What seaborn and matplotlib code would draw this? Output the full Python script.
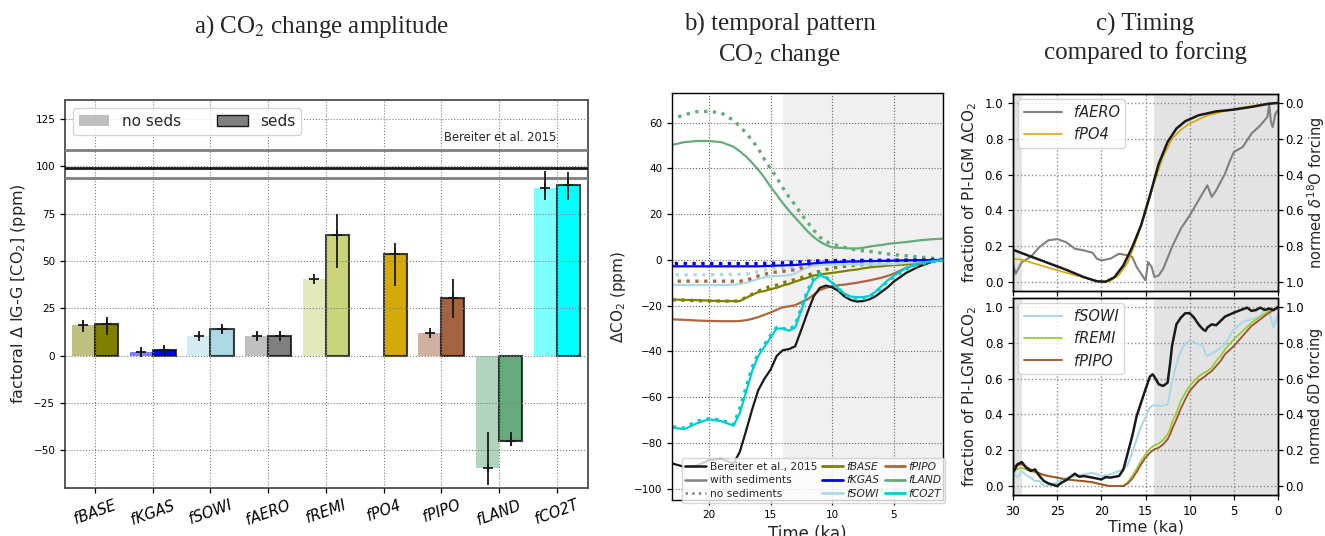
import numpy as np
import pandas as pd
import matplotlib
matplotlib.use('Agg')
import matplotlib.pyplot as plt
import seaborn as sns
from matplotlib.patches import Patch
from matplotlib.lines import Line2D

# ---------------- Panel a data ----------------
categories = ['fBASE', 'fKGAS', 'fSOWI', 'fAERO', 'fREMI', 'fPO4', 'fPIPO', 'fLAND', 'fCO2T']
noseds_vals = [16.2, 1.8, 10.4, 10.4, 40.4, np.nan, 11.8, -59.6, 88.3]
noseds_err_lo = [3.6, 1.0, 1.2, 1.8, 0.8, np.nan, 1.5, 8.6, 6.0]
noseds_err_hi = [2.5, 1.0, 1.2, 1.8, 0.8, np.nan, 1.5, 19.0, 9.0]
seds_vals = [16.5, 3.0, 13.9, 10.4, 63.7, 53.4, 30.5, -45.3, 90.2]
seds_err_lo = [5.6, 1.5, 2.0, 2.0, 17.4, 16.6, 10.5, 2.6, 8.0]
seds_err_hi = [3.9, 1.5, 1.5, 2.0, 10.9, 6.3, 10.0, 5.0, 7.0]
bar_colors = ['#808000', '#0000ff', '#add8e6', '#808080', '#cbd47b',
              '#d4aa0a', '#a3633f', '#65ab7c', '#00ffff']
bereiter_amp = 99.0
bereiter_hi = 108.6
bereiter_lo = 94.0

# ---------------- Panel b data ----------------
t_b = [23, 22, 21, 20, 19, 18, 17.5, 17, 16.5, 16, 15.5, 15, 14.5, 14, 13.5, 13,
       12.5, 12, 11.5, 11, 10.5, 10, 9.5, 9, 8.5, 8, 7.5, 7, 6.5, 6, 5.5, 5, 4, 3, 2, 1]
bereiter_b = [-89.0, -90.5, -90.0, -87.5, -87.0, -89.0, -84.0, -75.0, -65.5, -57.0, -52.0, -48.0,
              -42.0, -39.5, -39.0, -37.8, -30.5, -23.0, -16.0, -12.2, -11.2, -12.0, -13.5, -16.0,
              -17.5, -18.2, -18.0, -17.3, -16.0, -14.0, -12.0, -9.5, -5.7, -3.0, -1.0, 0.3]
fBASE_sed = [-17.3, -17.5, -17.6, -17.8, -18.0, -18.0, -18.0, -16.6, -15.3, -14.1, -13.6, -12.8,
             -12.2, -11.2, -10.5, -9.5, -8.6, -7.8, -6.8, -6.4, -6.0, -5.7, -5.3, -4.9, -4.5,
             -4.2, -3.7, -3.3, -3.0, -2.8, -2.5, -2.3, -2.0, -1.3, -0.7, 0.0]
fBASE_nosed = [-17.5, -17.6, -17.8, -17.9, -18.0, -18.0, -18.0, -16.3, -15.0, -13.7, -12.5, -11.6,
               -11.0, -10.0, -9.3, -8.6, -7.8, -6.8, -5.7, -5.0, -4.2, -3.6, -3.2, -2.8, -2.5,
               -2.3, -2.0, -1.8, -1.7, -1.5, -1.3, -1.2, -1.0, -0.7, -0.3, 0.0]
fKGAS_sed = [-2.8, -2.8, -2.8, -2.8, -2.8, -2.8, -2.8, -2.8, -2.8, -2.8, -2.7, -2.6, -2.5, -2.4,
             -2.3, -2.2, -2.0, -1.8, -1.5, -1.3, -1.1, -1.0, -0.9, -0.8, -0.7, -0.7, -0.6,
             -0.5, -0.5, -0.4, -0.4, -0.3, -0.2, -0.1, -0.1, 0.0]
fKGAS_nosed = [-1.6, -1.6, -1.6, -1.6, -1.6, -1.6, -1.6, -1.6, -1.6, -1.6, -1.5, -1.5, -1.4,
               -1.3, -1.1, -1.0, -0.8, -0.6, -0.5, -0.4, -0.4, -0.3, -0.3, -0.3, -0.3, -0.3,
               -0.2, -0.2, -0.2, -0.2, -0.2, -0.2, -0.1, -0.1, 0.0, 0.0]
fSOWI_sed = [-10.8, -11.0, -11.0, -11.0, -11.0, -10.8, -10.5, -10.0, -9.2, -8.3, -7.6, -7.2, -7.0,
             -6.9, -6.7, -6.0, -4.5, -3.2, -2.6, -2.3, -2.2, -2.1, -2.0, -2.0, -2.0, -2.0, -2.0,
             -1.9, -1.9, -1.9, -1.8, -1.8, -1.3, -0.9, -0.5, 0.0]
fSOWI_nosed = [-6.5, -6.5, -6.5, -6.5, -6.4, -6.3, -6.3, -6.2, -5.7, -5.0, -4.4, -4.0, -3.7,
               -3.5, -3.2, -2.8, -2.3, -1.8, -1.5, -1.3, -1.1, -1.0, -1.0, -1.0, -1.0, -1.0,
               -0.9, -0.9, -0.8, -0.8, -0.7, -0.7, -0.5, -0.3, -0.2, 0.0]
fPIPO_sed = [-26.0, -26.2, -26.5, -26.7, -26.8, -26.8, -26.7, -26.4, -25.8, -25.0, -24.0, -23.0,
             -21.8, -20.7, -20.3, -19.8, -18.5, -17.3, -15.3, -13.2, -12.2, -11.5, -11.1, -10.8,
             -10.4, -10.0, -9.5, -9.0, -8.4, -7.8, -7.0, -6.0, -3.5, -1.8, -0.8, 0.0]
fPIPO_nosed = [-9.3, -9.3, -9.3, -9.3, -9.3, -9.3, -9.3, -9.0, -8.0, -7.0, -6.3, -5.7, -5.3,
               -5.0, -4.6, -4.3, -3.5, -2.2, -1.2, -0.6, -0.4, -0.3, -0.3, -0.3, -0.3, -0.3,
               -0.3, -0.3, -0.3, -0.2, -0.2, -0.2, -0.1, -0.1, 0.0, 0.0]
fLAND_sed = [50.3, 51.5, 52.0, 52.0, 51.5, 49.5, 47.5, 45.3, 42.5, 39.5, 36.0, 32.0, 28.5, 24.8,
             21.5, 18.5, 15.5, 12.5, 10.0, 8.0, 6.5, 5.5, 5.3, 5.2, 5.0, 5.0, 5.3, 5.8, 6.2,
             6.5, 7.0, 7.3, 7.8, 8.5, 9.0, 9.3]
fLAND_nosed = [61.5, 63.5, 64.8, 65.0, 64.3, 61.0, 58.5, 55.5, 52.3, 48.7, 44.0, 40.0, 36.0,
               31.5, 27.5, 24.0, 20.0, 16.5, 13.0, 10.0, 8.0, 7.0, 6.2, 5.5, 4.8, 4.3, 4.0,
               3.8, 3.3, 3.0, 2.6, 2.3, 1.8, 1.3, 0.8, 0.2]
fCO2T_sed = [-73.4, -74.0, -71.5, -69.7, -70.5, -72.5, -67.0, -58.0, -48.7, -42.0, -38.0, -34.0,
             -30.0, -30.0, -31.0, -29.5, -22.0, -14.5, -9.0, -6.8, -7.8, -10.0, -12.5, -14.8,
             -16.0, -16.3, -16.3, -15.8, -14.0, -11.5, -9.0, -7.0, -3.5, -1.4, -0.7, -0.1]
fCO2T_nosed = [-73.0, -73.5, -70.5, -69.5, -70.0, -72.0, -65.0, -56.0, -47.0, -41.0, -37.0, -33.0,
               -29.5, -30.0, -30.5, -28.5, -21.0, -13.5, -8.0, -6.0, -7.5, -10.0, -12.5, -15.0,
               -16.5, -17.0, -17.0, -16.3, -14.5, -12.0, -9.5, -7.5, -4.0, -2.0, -0.8, 0.0]

# ---------------- Panel c data ----------------
t_d18O = [30, 28, 26, 24, 22, 20.5, 19.5, 18.5, 17.5, 16.5, 15.5, 14.5, 13.5, 12.5, 11.5,
          10.5, 9, 7, 5, 3, 1, 0]
d18O_forcing = [0.82, 0.857, 0.894, 0.931, 0.972, 0.996, 0.998, 0.972, 0.907, 0.805, 0.683,
                0.516, 0.339, 0.218, 0.143, 0.102, 0.069, 0.047, 0.037, 0.022, 0.004, 0.0]
t_po4 = [30, 29, 28, 26, 24, 22, 21, 20, 19, 18, 17, 16, 15, 14, 13, 12, 11, 10, 8, 6, 4, 2, 1, 0]
fPO4_frac = [0.13, 0.125, 0.11, 0.08, 0.052, 0.025, 0.012, 0.003, 0.005, 0.04, 0.11, 0.24,
             0.39, 0.56, 0.70, 0.80, 0.85, 0.885, 0.93, 0.955, 0.975, 0.99, 0.995, 1.0]
t_aero = [30, 29.7, 29, 28, 27, 26, 25, 24, 23, 22, 21, 20.5, 20, 19, 18, 17, 16.5, 16, 15,
          14.7, 14.3, 14, 13.5, 13, 12, 11, 10, 9, 8, 7.5, 7, 6, 5.5, 5, 4, 3, 2, 1.2, 1,
          0.8, 0.6, 0.3, 0]
fAERO_frac = [0.10, 0.046, 0.112, 0.14, 0.196, 0.233, 0.24, 0.223, 0.186, 0.177, 0.164, 0.13,
              0.121, 0.13, 0.158, 0.149, 0.14, 0.084, 0.009, 0.112, 0.084, 0.028, 0.037, 0.074,
              0.196, 0.298, 0.372, 0.456, 0.54, 0.475, 0.512, 0.605, 0.67, 0.726, 0.754, 0.829,
              0.875, 0.922, 0.993, 0.894, 0.866, 0.94, 0.96]

t_c2 = [30, 29.5, 29, 28.5, 28, 27.5, 27, 26.5, 26, 25, 24.5, 24, 23, 22.5, 22, 21, 20, 19.5,
        19, 18, 17.5, 17, 16.5, 16, 15.5, 15, 14.5, 14.2, 14, 13.5, 13, 12.5, 12.2, 12, 11.5,
        11, 10.5, 10, 9.5, 9, 8.5, 8.2, 8, 7.5, 7, 6.5, 6, 5, 4, 3.5, 3, 2.5, 2, 1.5, 1, 0.5, 0]
dD_forcing = [0.074, 0.121, 0.134, 0.102, 0.084, 0.093, 0.056, 0.028, 0.015, 0.0, 0.019, 0.032,
              0.069, 0.052, 0.056, 0.047, 0.037, 0.05, 0.047, 0.056, 0.093, 0.186, 0.279, 0.391,
              0.466, 0.54, 0.611, 0.624, 0.611, 0.568, 0.559, 0.577, 0.689, 0.782, 0.903, 0.94,
              0.965, 0.965, 0.94, 0.903, 0.875, 0.866, 0.885, 0.903, 0.898, 0.922, 0.946, 0.968,
              0.987, 0.996, 0.978, 0.983, 0.996, 0.983, 0.991, 0.983, 1.0]
fSOWI_frac = [0.074, 0.047, 0.084, 0.06, 0.047, 0.028, 0.028, 0.0, 0.004, 0.019, 0.035, 0.047,
              0.056, 0.06, 0.065, 0.074, 0.056, 0.06, 0.065, 0.084, 0.093, 0.121, 0.186, 0.261,
              0.335, 0.382, 0.438, 0.449, 0.451, 0.447, 0.447, 0.456, 0.53, 0.577, 0.68, 0.754,
              0.797, 0.81, 0.804, 0.791, 0.782, 0.736, 0.726, 0.74, 0.754, 0.772, 0.791, 0.875,
              0.916, 0.925, 0.931, 0.94, 0.946, 0.987, 0.978, 0.885, 0.96]
fREMI_frac = [0.084, 0.095, 0.102, 0.092, 0.084, 0.075, 0.065, 0.06, 0.056, 0.047, 0.042, 0.037,
              0.032, 0.029, 0.026, 0.019, 0.009, 0.004, 0.0, 0.0, 0.002, 0.022, 0.056, 0.097,
              0.14, 0.177, 0.209, 0.22, 0.227, 0.238, 0.257, 0.289, 0.32, 0.354, 0.41, 0.475,
              0.521, 0.559, 0.587, 0.611, 0.629, 0.636, 0.642, 0.661, 0.698, 0.726, 0.764, 0.819,
              0.866, 0.889, 0.912, 0.929, 0.946, 0.962, 0.978, 0.987, 0.996]
fPIPO_frac = [0.112, 0.117, 0.121, 0.107, 0.093, 0.082, 0.071, 0.063, 0.056, 0.047, 0.042,
              0.037, 0.032, 0.03, 0.028, 0.022, 0.009, 0.004, 0.0, 0.0, 0.0, 0.015, 0.041, 0.078,
              0.121, 0.158, 0.186, 0.198, 0.205, 0.214, 0.233, 0.261, 0.29, 0.317, 0.372, 0.432,
              0.484, 0.531, 0.559, 0.587, 0.605, 0.615, 0.624, 0.642, 0.67, 0.698, 0.736, 0.782,
              0.838, 0.866, 0.894, 0.912, 0.931, 0.95, 0.968, 0.982, 0.996]

col_olive, col_blue, col_lblue = '#808000', '#0000ff', '#add8e6'
col_pipo, col_land, col_co2t = '#a9683f', '#65ab7c', '#00ced1'

# ---------------- Figure ----------------
sns.set_theme(style='ticks')
plt.rcParams['font.family'] = ['DejaVu Sans']
plt.rcParams['axes.edgecolor'] = 'black'
plt.rcParams['xtick.color'] = 'black'
plt.rcParams['ytick.color'] = 'black'
plt.rcParams['axes.linewidth'] = 1.0

W, H = 1325, 536
fig = plt.figure(figsize=(W / 100, H / 100), dpi=100)


def box(l, r, t, b):
    return [l / W, 1 - b / H, (r - l) / W, (b - t) / H]


axA = fig.add_axes(box(65, 588, 100, 488))
axB = fig.add_axes(box(672, 943, 93, 500))
axC1 = fig.add_axes(box(1013, 1278, 94, 291))
axC2 = fig.add_axes(box(1013, 1278, 298, 495))

# ---------------- Panel a ----------------
df = pd.DataFrame({
    'cat': categories * 2,
    'val': [0.0 if np.isnan(v) else v for v in noseds_vals] + list(seds_vals),
    'sed': ['no seds'] * len(categories) + ['seds'] * len(categories),
})
sns.barplot(data=df, x='cat', y='val', hue='sed', hue_order=['no seds', 'seds'],
            order=categories, dodge=True, width=0.8, gap=0, errorbar=None,
            legend=False, ax=axA)
for p in axA.patches:
    xc = p.get_x() + p.get_width() / 2
    i = int(round(xc))
    if i < 0 or i >= len(categories):
        continue
    c = bar_colors[i]
    if xc > i:  # seds
        p.set_facecolor(c)
        p.set_edgecolor((0, 0, 0, 0.75))
        p.set_linewidth(1.5)
    else:
        p.set_facecolor(matplotlib.colors.to_rgba(c, 0.5))
        p.set_edgecolor('none')
        p.set_linewidth(0)

xs = np.arange(len(categories))
m = ~np.isnan(np.array(noseds_vals, dtype=float))
axA.errorbar(xs[m] - 0.2, np.array(noseds_vals)[m],
             yerr=[np.array(noseds_err_lo)[m], np.array(noseds_err_hi)[m]],
             fmt='+', color='k', ms=7, mew=1.3, elinewidth=1.3, capsize=0, zorder=4)
axA.errorbar(xs + 0.2, seds_vals, yerr=[seds_err_lo, seds_err_hi],
             fmt='+', color='k', ms=7, mew=1.3, elinewidth=1.3, capsize=0, zorder=4)
axA.axhline(bereiter_hi, color='0.5', lw=2, zorder=3)
axA.axhline(bereiter_lo, color='0.5', lw=2, zorder=3)
axA.axhline(bereiter_amp, color='k', lw=2, zorder=3)
axA.text(8.0, 115, 'Bereiter et al. 2015', ha='right', va='center', fontsize=8.3)
axA.set_xlim(-0.52, 8.54)
axA.set_ylim(-70, 135)
axA.set_yticks([-50, -25, 0, 25, 50, 75, 100, 125])
axA.set_xlabel('')
axA.set_ylabel(r'factoral $\Delta$ IG-G [CO$_2$] (ppm)', fontsize=11.5)
axA.set_xticks(xs)
axA.set_xticklabels(categories, rotation=20, fontstyle='italic', fontsize=10.5)
axA.tick_params(axis='y', labelsize=7.5)
axA.grid(True, ls=':', color='0.5', lw=0.8)
axA.set_axisbelow(False)
for s in axA.spines.values():
    s.set_color('0.3')
    s.set_linewidth(1.3)
legA = axA.legend(handles=[Patch(facecolor='0.75', edgecolor='none', label='no seds'),
                           Patch(facecolor='0.5', edgecolor='k', label='seds')],
                  loc='upper left', ncol=2, fontsize=11, columnspacing=2.4,
                  handlelength=2.0, bbox_to_anchor=(0.0, 1.0))

# ---------------- Panel b ----------------
axB.axvspan(1, 14, color='0.94', lw=0, zorder=0)
series_b = [
    (fLAND_sed, fLAND_nosed, col_land),
    (fBASE_sed, fBASE_nosed, col_olive),
    (fSOWI_sed, fSOWI_nosed, col_lblue),
    (fPIPO_sed, fPIPO_nosed, col_pipo),
    (fKGAS_sed, fKGAS_nosed, col_blue),
]
for sed, nosed, col in series_b:
    sns.lineplot(x=t_b, y=nosed, color=col, lw=2.4, ls=':', ax=axB)
    sns.lineplot(x=t_b, y=sed, color=col, lw=1.6, ax=axB)
sns.lineplot(x=t_b, y=bereiter_b, color='k', lw=1.6, ax=axB)
sns.lineplot(x=t_b, y=fCO2T_nosed, color=col_co2t, lw=2.4, ls=':', ax=axB)
sns.lineplot(x=t_b, y=fCO2T_sed, color=col_co2t, lw=1.6, ax=axB)
axB.set_xlim(23, 1)
axB.set_ylim(-105, 73)
axB.set_xticks([20, 15, 10, 5])
axB.set_yticks([-100, -80, -60, -40, -20, 0, 20, 40, 60])
axB.tick_params(labelsize=7.5)
axB.grid(True, ls=':', color='0.4', lw=0.8)
axB.set_axisbelow('line')
axB.set_xlabel('Time (ka)', fontsize=12)
axB.set_ylabel(r'$\Delta$CO$_2$ (ppm)', fontsize=11)
hB = [Line2D([], [], color='k', lw=1.8, label='Bereiter et al., 2015'),
      Line2D([], [], color='0.5', lw=1.8, label='with sediments'),
      Line2D([], [], color='0.5', lw=1.8, ls=':', label='no sediments'),
      Line2D([], [], color=col_olive, lw=2, label='fBASE'),
      Line2D([], [], color=col_blue, lw=2, label='fKGAS'),
      Line2D([], [], color=col_lblue, lw=2, label='fSOWI'),
      Line2D([], [], color=col_pipo, lw=2, label='fPIPO'),
      Line2D([], [], color=col_land, lw=2, label='fLAND'),
      Line2D([], [], color=col_co2t, lw=2, label='fCO2T')]
legB = axB.legend(handles=hB, ncol=3, loc='lower right', bbox_to_anchor=(1.017, -0.012),
                  fontsize=7.7, columnspacing=0.5, handlelength=1.9, handletextpad=0.35,
                  labelspacing=0.35, borderpad=0.35, borderaxespad=0.2)
for t in legB.get_texts():
    if t.get_text().startswith('f'):
        t.set_fontstyle('italic')

# ---------------- Panel c ----------------
for ax in (axC1, axC2):
    ax.axvspan(29, 30, color='0.89', lw=0, zorder=0)
    ax.axvspan(0, 14, color='0.89', lw=0, zorder=0)
    ax.set_xlim(30, 0)
    ax.set_ylim(-0.05, 1.05)
    ax.set_xticks([30, 25, 20, 15, 10, 5, 0])
    ax.set_yticks([0, 0.2, 0.4, 0.6, 0.8, 1.0])
    ax.set_yticklabels(['0.0', '0.2', '0.4', '0.6', '0.8', '1.0'])
    ax.grid(True, ls=':', color='0.55', lw=1.0)
    ax.tick_params(labelsize=8.5)
    ax.set_ylabel(r'fraction of PI-LGM $\Delta$CO$_2$', fontsize=11)

sns.lineplot(x=t_aero, y=fAERO_frac, color='#808080', lw=1.5, label='fAERO', ax=axC1)
sns.lineplot(x=t_po4, y=fPO4_frac, color='#d4aa0a', lw=1.2, label='fPO4', ax=axC1)
axC1.tick_params(axis='x', labelbottom=False)
axC1.set_xlabel('')
legC1 = axC1.legend(loc='upper left', fontsize=10.5, handlelength=2.6,
                    borderaxespad=0.35, bbox_to_anchor=(0.0, 1.0))
for t in legC1.get_texts():
    t.set_fontstyle('italic')
axC1r = axC1.twinx()
sns.lineplot(x=t_d18O, y=d18O_forcing, color='k', lw=1.8, ax=axC1r)
axC1r.set_ylim(1.05, -0.05)
axC1r.set_yticks([0, 0.2, 0.4, 0.6, 0.8, 1.0])
axC1r.set_yticklabels(['0.0', '0.2', '0.4', '0.6', '0.8', '1.0'])
axC1r.tick_params(labelsize=8.5)
axC1r.set_ylabel(r'normed $\delta^{18}$O forcing', fontsize=10.5, labelpad=1)

sns.lineplot(x=t_c2, y=fSOWI_frac, color=col_lblue, lw=1.5, label='fSOWI', ax=axC2)
sns.lineplot(x=t_c2, y=fREMI_frac, color='#9acd32', lw=1.3, label='fREMI', ax=axC2)
sns.lineplot(x=t_c2, y=fPIPO_frac, color='#a0522d', lw=1.3, label='fPIPO', ax=axC2)
axC2.set_xlabel('Time (ka)', fontsize=11.5, labelpad=1)
legC2 = axC2.legend(loc='upper left', fontsize=10.5, handlelength=2.6,
                    borderaxespad=0.35, bbox_to_anchor=(0.0, 1.0))
for t in legC2.get_texts():
    t.set_fontstyle('italic')
axC2r = axC2.twinx()
sns.lineplot(x=t_c2, y=dD_forcing, color='k', lw=1.8, ax=axC2r)
axC2r.set_ylim(-0.05, 1.05)
axC2r.set_yticks([0, 0.2, 0.4, 0.6, 0.8, 1.0])
axC2r.set_yticklabels(['0.0', '0.2', '0.4', '0.6', '0.8', '1.0'])
axC2r.tick_params(labelsize=8.5)
axC2r.set_ylabel(r'normed $\delta$D forcing', fontsize=10.5, labelpad=1)

for ax in (axA, axB, axC1, axC2, axC1r, axC2r):
    ax.tick_params(direction='out', length=3.5, width=0.9)
for ax in (axC1r, axC2r):
    ax.tick_params(pad=2)

# ---------------- Titles ----------------
tkw = dict(ha='center', va='top', fontsize=18, family='Liberation Serif',
           math_fontfamily='stix', linespacing=1.3)
fig.text(322 / W, 1 - 13 / H, r'a) CO$_2$ change amplitude', **tkw)
fig.text(780 / W, 1 - 13 / H, 'b) temporal pattern\n' + r'CO$_2$ change', **tkw)
fig.text(1145 / W, 1 - 13 / H, 'c) Timing\ncompared to forcing', **tkw)

fig.savefig('out.png', dpi=100)
